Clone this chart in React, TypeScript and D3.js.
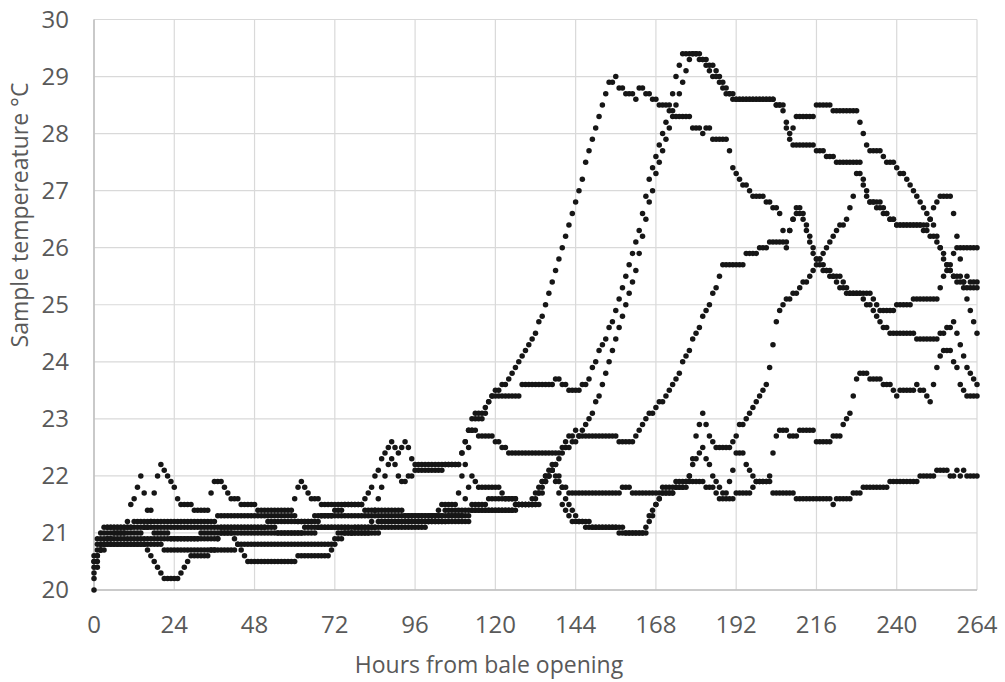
import React from 'react';
import * as d3 from 'd3';

const xTicks = [0, 24, 48, 72, 96, 120, 144, 168, 192, 216, 240, 264];
const yTicks = [20, 21, 22, 23, 24, 25, 26, 27, 28, 29, 30];

// hourly readings, hour 0..264
const seriesA = [
  20.6,20.9,21.0,21.1,21.1,21.1,21.1,21.1,21.1,21.1,
  21.1,21.1,21.1,21.1,21.1,21.1,21.1,21.4,21.7,22.0,
  22.2,22.1,22.0,21.9,21.8,21.6,21.5,21.5,21.5,21.5,
  21.4,21.4,21.4,21.4,21.4,21.7,21.9,21.9,21.9,21.8,
  21.7,21.6,21.6,21.6,21.5,21.5,21.5,21.5,21.5,21.4,
  21.4,21.4,21.4,21.4,21.4,21.4,21.4,21.4,21.4,21.4,
  21.6,21.8,21.9,21.8,21.7,21.6,21.6,21.6,21.5,21.5,
  21.5,21.5,21.5,21.5,21.5,21.5,21.5,21.5,21.5,21.5,
  21.5,21.6,21.7,21.8,22.0,22.1,22.3,22.4,22.5,22.6,
  22.5,22.4,22.5,22.6,22.5,22.3,22.2,22.2,22.2,22.2,
  22.2,22.2,22.2,22.2,22.2,22.2,22.2,22.2,22.2,22.2,
  22.4,22.6,22.8,23.0,23.1,23.1,23.1,23.2,23.3,23.4,
  23.5,23.5,23.6,23.6,23.7,23.8,23.9,24.0,24.1,24.2,
  24.3,24.4,24.5,24.7,24.8,25.0,25.2,25.4,25.6,25.8,
  26.0,26.2,26.4,26.6,26.8,27.0,27.2,27.5,27.7,27.9,
  28.1,28.3,28.5,28.7,28.9,28.9,29.0,28.8,28.8,28.7,
  28.7,28.7,28.6,28.8,28.8,28.7,28.7,28.6,28.6,28.5,
  28.5,28.5,28.5,28.4,28.3,28.3,28.3,28.3,28.3,28.1,
  28.1,28.1,28.0,28.1,28.1,27.9,27.9,27.9,27.9,27.9,
  27.7,27.4,27.3,27.2,27.1,27.1,27.0,26.9,26.9,26.9,
  26.9,26.8,26.8,26.7,26.7,26.6,26.3,26.0,26.3,26.5,
  26.7,26.7,26.6,26.4,26.2,26.0,25.8,25.8,25.7,25.6,
  25.6,25.5,25.5,25.5,25.4,25.3,25.2,25.2,25.2,25.2,
  25.2,25.2,25.2,25.1,25.0,24.9,24.9,24.9,24.9,24.9,
  25.0,25.0,25.0,25.0,25.0,25.1,25.1,25.1,25.1,25.1,
  25.1,25.1,25.1,25.3,25.5,25.6,25.7,25.9,26.0,26.0,
  26.0,26.0,26.0,26.0,26.0,
];

const seriesB = [
  20.3,20.6,20.8,20.9,21.0,21.0,21.0,21.0,21.0,21.0,
  21.2,21.5,21.6,21.8,22.0,21.7,21.4,21.2,21.0,21.0,
  21.0,21.0,21.0,20.9,20.9,20.9,20.9,20.9,20.9,20.9,
  20.9,20.9,21.0,21.0,21.0,21.0,21.0,21.0,21.1,21.1,
  21.1,21.1,21.1,21.1,21.1,21.1,21.1,21.1,21.1,21.1,
  21.1,21.1,21.2,21.2,21.2,21.2,21.2,21.2,21.2,21.2,
  21.2,21.2,21.2,21.2,21.2,21.2,21.3,21.3,21.3,21.3,
  21.3,21.3,21.3,21.3,21.3,21.3,21.3,21.3,21.3,21.3,
  21.3,21.3,21.3,21.3,21.3,21.3,21.3,21.3,21.3,21.3,
  21.3,21.3,21.3,21.3,21.3,21.3,21.3,21.3,21.3,21.3,
  21.3,21.3,21.3,21.4,21.5,21.5,21.5,21.5,21.5,21.7,
  22.0,22.2,22.5,22.8,23.0,23.0,23.0,23.1,23.3,23.4,
  23.4,23.4,23.4,23.4,23.4,23.4,23.4,23.4,23.6,23.6,
  23.6,23.6,23.6,23.6,23.6,23.6,23.6,23.6,23.7,23.7,
  23.6,23.6,23.5,23.5,23.5,23.5,23.6,23.6,23.7,23.9,
  24.0,24.2,24.3,24.4,24.6,24.7,24.9,25.1,25.3,25.5,
  25.7,25.9,26.1,26.3,26.6,26.9,27.2,27.4,27.6,27.8,
  28.0,28.2,28.4,28.7,29.0,29.2,29.4,29.4,29.4,29.4,
  29.4,29.3,29.3,29.3,29.2,29.2,29.1,29.0,28.9,28.8,
  28.7,28.7,28.6,28.6,28.6,28.6,28.6,28.6,28.6,28.6,
  28.6,28.6,28.6,28.6,28.5,28.5,28.4,28.1,27.9,27.8,
  27.8,27.8,27.8,27.8,27.8,27.8,27.7,27.7,27.7,27.6,
  27.6,27.6,27.5,27.5,27.5,27.5,27.5,27.5,27.5,27.3,
  27.1,26.9,26.8,26.8,26.8,26.8,26.7,26.6,26.5,26.5,
  26.4,26.4,26.4,26.4,26.4,26.4,26.4,26.4,26.4,26.4,
  26.5,26.7,26.8,26.9,26.9,26.9,26.9,26.6,26.2,25.8,
  25.4,25.1,24.9,24.7,24.5,
];

const seriesC = [
  20.0,20.4,20.7,20.8,20.9,20.9,20.9,20.9,20.9,20.9,
  20.9,20.9,20.9,20.9,20.9,20.9,20.9,20.9,20.9,20.9,
  20.9,20.9,20.9,20.9,20.9,20.9,20.9,20.9,20.9,20.9,
  20.9,20.9,20.9,20.9,20.9,20.9,20.9,20.9,21.0,21.0,
  21.0,21.0,21.0,21.0,21.0,21.0,21.0,21.0,21.0,21.0,
  21.0,21.0,21.0,21.0,21.0,21.0,21.0,21.0,21.0,21.0,
  21.0,21.0,21.0,21.1,21.1,21.1,21.1,21.1,21.1,21.1,
  21.1,21.1,21.1,21.1,21.1,21.1,21.1,21.0,21.0,21.0,
  21.0,21.0,21.0,21.0,21.0,21.0,21.1,21.1,21.1,21.1,
  21.1,21.1,21.1,21.1,21.1,21.1,21.1,21.1,21.1,21.1,
  21.2,21.2,21.2,21.2,21.2,21.2,21.2,21.2,21.2,21.2,
  21.2,21.2,21.2,21.4,21.4,21.4,21.4,21.4,21.4,21.4,
  21.4,21.4,21.4,21.4,21.4,21.4,21.5,21.5,21.5,21.5,
  21.5,21.5,21.6,21.8,21.9,22.0,22.0,22.1,22.2,22.3,
  22.4,22.5,22.5,22.6,22.6,22.7,22.8,22.9,23.0,23.1,
  23.3,23.4,23.6,23.8,24.0,24.2,24.4,24.6,24.8,25.0,
  25.2,25.4,25.6,25.9,26.2,26.5,26.8,27.0,27.3,27.5,
  27.7,27.9,28.1,28.3,28.5,28.7,28.9,29.1,29.3,29.4,
  29.4,29.4,29.3,29.2,29.1,29.0,29.0,28.9,28.8,28.7,
  28.7,28.6,28.6,28.6,28.6,28.6,28.6,28.6,28.6,28.6,
  28.6,28.6,28.6,28.6,28.5,28.5,28.5,28.2,28.0,28.1,
  28.3,28.3,28.3,28.3,28.3,28.3,28.5,28.5,28.5,28.5,
  28.5,28.4,28.4,28.4,28.4,28.4,28.4,28.4,28.4,28.2,
  28.0,27.8,27.7,27.7,27.7,27.7,27.6,27.5,27.5,27.5,
  27.4,27.3,27.3,27.2,27.1,27.0,26.9,26.8,26.7,26.6,
  26.5,26.4,26.2,26.0,25.8,25.7,25.6,25.5,25.5,25.5,
  25.4,25.5,25.4,25.4,25.4,
];

const seriesD = [
  20.5,20.7,20.8,20.8,20.9,20.9,21.0,21.0,21.0,21.0,
  21.0,21.0,21.0,21.0,21.0,21.1,21.1,21.1,21.1,21.1,
  21.1,21.1,21.1,21.1,21.1,21.1,21.1,21.1,21.1,21.1,
  21.1,21.1,21.1,21.1,21.1,21.1,21.1,21.1,21.1,21.1,
  21.1,21.1,21.1,21.1,21.1,21.1,21.1,21.1,21.1,21.1,
  21.1,21.1,21.1,21.1,21.1,21.0,21.0,21.0,21.0,21.0,
  21.0,21.0,21.0,21.0,21.0,21.0,21.0,21.1,21.1,21.1,
  21.1,21.1,21.1,21.1,21.1,21.1,21.1,21.1,21.1,21.1,
  21.1,21.1,21.1,21.2,21.4,21.6,21.8,22.0,22.2,22.3,
  22.2,22.0,21.9,21.9,22.0,22.0,22.1,22.1,22.1,22.1,
  22.1,22.1,22.1,22.1,22.1,22.2,22.2,22.2,22.2,22.2,
  22.4,22.6,22.8,22.8,22.8,22.7,22.7,22.7,22.7,22.7,
  22.6,22.6,22.5,22.5,22.4,22.4,22.4,22.4,22.4,22.4,
  22.4,22.4,22.4,22.4,22.4,22.4,22.4,22.4,22.4,22.4,
  22.5,22.6,22.7,22.7,22.8,22.7,22.7,22.7,22.7,22.7,
  22.7,22.7,22.7,22.7,22.7,22.7,22.7,22.6,22.6,22.6,
  22.6,22.6,22.7,22.8,22.9,23.0,23.1,23.1,23.2,23.3,
  23.3,23.4,23.5,23.6,23.7,23.8,24.0,24.1,24.2,24.4,
  24.5,24.6,24.8,24.9,25.0,25.2,25.3,25.5,25.7,25.7,
  25.7,25.7,25.7,25.7,25.7,25.9,25.9,25.9,25.9,26.0,
  26.0,26.0,26.1,26.1,26.1,26.1,26.1,26.1,26.3,26.5,
  26.6,26.6,26.5,26.3,26.1,25.9,25.8,25.7,25.6,25.6,
  25.5,25.5,25.4,25.3,25.3,25.2,25.2,25.2,25.2,25.2,
  25.1,25.0,25.0,24.9,24.8,24.7,24.6,24.6,24.5,24.5,
  24.5,24.5,24.5,24.5,24.5,24.5,24.4,24.4,24.4,24.4,
  24.4,24.4,24.4,24.5,24.5,24.6,24.6,24.7,24.5,24.3,
  24.1,23.9,23.8,23.7,23.6,
];

const seriesE = [
  20.2,20.5,20.7,20.8,20.8,20.8,20.8,20.8,20.8,20.8,
  20.8,20.8,20.8,20.8,20.8,20.8,20.7,20.6,20.5,20.4,
  20.3,20.2,20.2,20.2,20.2,20.2,20.3,20.4,20.5,20.6,
  20.6,20.6,20.6,20.6,20.6,20.7,20.7,20.9,21.0,21.0,
  21.0,21.0,20.9,20.8,20.7,20.6,20.5,20.5,20.5,20.5,
  20.5,20.5,20.5,20.5,20.5,20.5,20.5,20.5,20.5,20.5,
  20.5,20.6,20.6,20.6,20.6,20.6,20.6,20.6,20.6,20.6,
  20.6,20.7,20.8,20.9,20.9,21.0,21.0,21.0,21.1,21.1,
  21.1,21.1,21.1,21.1,21.1,21.1,21.2,21.2,21.2,21.2,
  21.2,21.2,21.2,21.2,21.2,21.2,21.2,21.2,21.2,21.2,
  21.2,21.3,21.3,21.3,21.3,21.3,21.3,21.3,21.3,21.3,
  21.3,21.3,21.3,21.4,21.4,21.4,21.4,21.5,21.6,21.6,
  21.6,21.6,21.6,21.6,21.6,21.6,21.6,21.5,21.5,21.5,
  21.5,21.5,21.5,21.5,21.7,21.9,22.0,22.1,21.9,21.7,
  21.5,21.4,21.3,21.2,21.2,21.2,21.2,21.1,21.1,21.1,
  21.1,21.1,21.1,21.1,21.1,21.1,21.1,21.0,21.0,21.0,
  21.0,21.0,21.0,21.0,21.0,21.0,21.2,21.3,21.5,21.6,
  21.7,21.7,21.7,21.7,21.8,21.8,21.8,21.9,22.0,22.3,
  22.7,22.9,23.1,22.9,22.7,22.6,22.5,22.5,22.5,22.5,
  22.5,22.6,22.7,22.9,22.9,23.0,23.1,23.2,23.3,23.4,
  23.5,23.6,23.9,24.3,24.7,24.9,25.0,25.1,25.1,25.2,
  25.2,25.3,25.4,25.4,25.5,25.6,25.7,25.8,25.9,26.0,
  26.1,26.2,26.3,26.4,26.4,26.5,26.7,26.9,27.3,27.5,
  27.2,27.0,26.8,26.8,26.7,26.7,26.6,26.6,26.5,26.5,
  26.4,26.4,26.4,26.4,26.4,26.4,26.4,26.4,26.3,26.3,
  26.2,26.2,26.1,26.0,25.9,25.7,25.6,25.5,25.4,25.4,
  25.3,25.3,25.3,25.3,25.3,
];

const seriesF = [
  20.4,20.6,20.7,20.7,20.8,20.8,20.8,20.8,20.8,20.8,
  20.8,20.8,20.8,20.8,20.8,20.8,20.8,20.8,20.8,20.8,
  20.8,20.7,20.7,20.7,20.7,20.7,20.7,20.7,20.7,20.7,
  20.7,20.7,20.7,20.7,20.7,20.7,20.7,20.7,20.7,20.7,
  20.7,20.7,20.7,20.8,20.8,20.8,20.8,20.8,20.8,20.8,
  20.8,20.8,20.8,20.8,20.8,20.8,20.8,20.8,20.8,20.8,
  20.8,20.8,20.8,20.8,20.8,20.8,20.8,20.8,20.8,20.8,
  20.8,20.8,20.9,21.0,21.0,21.0,21.0,21.0,21.0,21.0,
  21.0,21.0,21.0,21.1,21.1,21.2,21.2,21.2,21.2,21.2,
  21.2,21.2,21.2,21.2,21.2,21.2,21.2,21.2,21.2,21.2,
  21.2,21.2,21.2,21.2,21.2,21.2,21.3,21.3,21.3,21.3,
  21.3,21.6,21.8,22.0,21.9,21.8,21.8,21.8,21.8,21.8,
  21.8,21.8,21.7,21.6,21.6,21.6,21.6,21.5,21.5,21.5,
  21.5,21.5,21.5,21.7,21.9,22.0,22.1,22.2,22.2,22.0,
  21.8,21.6,21.5,21.4,21.3,21.2,21.2,21.2,21.2,21.1,
  21.1,21.1,21.1,21.1,21.1,21.1,21.1,21.1,21.1,21.0,
  21.0,21.0,21.0,21.0,21.0,21.1,21.3,21.4,21.5,21.6,
  21.8,21.8,21.8,21.8,21.8,21.8,21.8,21.8,22.0,22.2,
  22.3,22.4,22.5,22.3,22.2,22.0,21.9,21.8,21.7,21.7,
  21.9,22.1,22.4,22.4,22.4,22.2,22.1,22.0,21.9,21.9,
  21.9,21.9,22.0,22.4,22.7,22.8,22.8,22.8,22.7,22.7,
  22.7,22.8,22.8,22.8,22.8,22.8,22.6,22.6,22.6,22.6,
  22.6,22.7,22.7,22.7,22.9,23.0,23.1,23.4,23.7,23.8,
  23.8,23.8,23.7,23.7,23.7,23.7,23.6,23.6,23.6,23.5,
  23.4,23.5,23.5,23.5,23.5,23.5,23.6,23.5,23.5,23.4,
  23.3,23.6,23.9,24.1,24.2,24.2,24.2,24.0,23.9,23.6,
  23.5,23.4,23.4,23.4,23.4,
];

const seriesG = [
  20.5,20.8,20.9,21.0,21.1,21.1,21.1,21.1,21.1,21.1,
  21.1,21.1,21.2,21.2,21.2,21.2,21.2,21.2,21.2,21.2,
  21.2,21.2,21.2,21.2,21.2,21.2,21.2,21.2,21.2,21.2,
  21.2,21.2,21.2,21.2,21.2,21.2,21.2,21.3,21.3,21.3,
  21.3,21.3,21.3,21.3,21.3,21.3,21.3,21.3,21.3,21.3,
  21.3,21.3,21.3,21.3,21.3,21.3,21.3,21.3,21.3,21.3,
  21.3,21.2,21.2,21.2,21.2,21.2,21.2,21.2,21.3,21.3,
  21.3,21.3,21.4,21.4,21.4,21.5,21.5,21.5,21.5,21.5,
  21.5,21.4,21.4,21.4,21.4,21.4,21.4,21.4,21.4,21.4,
  21.4,21.4,21.4,21.3,21.3,21.3,21.3,21.3,21.3,21.3,
  21.3,21.3,21.3,21.3,21.3,21.4,21.4,21.4,21.4,21.4,
  21.4,21.4,21.4,21.5,21.5,21.5,21.5,21.4,21.4,21.4,
  21.4,21.4,21.4,21.4,21.4,21.4,21.4,21.5,21.5,21.5,
  21.5,21.6,21.7,21.7,21.8,21.9,22.0,22.1,22.0,21.9,
  21.8,21.8,21.7,21.7,21.7,21.7,21.7,21.7,21.7,21.7,
  21.7,21.7,21.7,21.7,21.7,21.7,21.7,21.7,21.8,21.8,
  21.8,21.7,21.7,21.7,21.7,21.7,21.7,21.7,21.7,21.7,
  21.7,21.7,21.7,21.7,21.9,21.9,21.9,21.9,21.9,21.9,
  21.9,21.9,21.9,21.8,21.8,21.8,21.7,21.6,21.6,21.6,
  21.6,21.6,21.7,21.7,21.7,21.7,21.7,21.8,21.9,21.9,
  21.9,21.9,21.9,21.7,21.7,21.7,21.7,21.7,21.7,21.7,
  21.6,21.6,21.6,21.6,21.6,21.6,21.6,21.6,21.6,21.6,
  21.6,21.5,21.6,21.6,21.6,21.6,21.6,21.7,21.7,21.7,
  21.8,21.8,21.8,21.8,21.8,21.8,21.8,21.8,21.9,21.9,
  21.9,21.9,21.9,21.9,21.9,21.9,21.9,22.0,22.0,22.0,
  22.0,22.0,22.1,22.1,22.1,22.1,22.0,22.0,22.1,22.0,
  22.1,22.0,22.0,22.0,22.0,
];

const allSeries = [seriesA, seriesB, seriesC, seriesD, seriesE, seriesF, seriesG];

const W = 1005;
const H = 682;
const FONT = "'Open Sans', 'Liberation Sans', sans-serif";

export default function App() {
  const x = d3.scaleLinear().domain([0, 264]).range([94, 977]);
  const y = d3.scaleLinear().domain([20, 30]).range([590, 19.5]);

  return (
    <svg
      width={W}
      height={H}
      viewBox={`0 0 ${W} ${H}`}
      style={{ position: 'absolute', left: 0, top: 0, background: '#ffffff' }}
      fontFamily={FONT}
    >
      <rect x={0} y={0} width={W} height={H} fill="#ffffff" />
      {yTicks.map((t) => (
        <line key={'gy' + t} x1={x(0)} x2={x(264)} y1={y(t)} y2={y(t)} stroke="#d9d9d9" strokeWidth={1.2} />
      ))}
      {xTicks.map((t) => (
        <line key={'gx' + t} x1={x(t)} x2={x(t)} y1={y(30)} y2={y(20)} stroke="#d9d9d9" strokeWidth={1.2} />
      ))}
      <line x1={x(0)} x2={x(0)} y1={y(30)} y2={y(20)} stroke="#bfbfbf" strokeWidth={1.5} />
      <line x1={x(0)} x2={x(264)} y1={y(20)} y2={y(20)} stroke="#bfbfbf" strokeWidth={1.5} />

      {allSeries.map((s, si) => (
        <g key={'s' + si} fill="#161616">
          {s.map((v, i) => (
            <circle key={i} cx={x(i)} cy={y(v)} r={2.75} />
          ))}
        </g>
      ))}

      {yTicks.map((t) => (
        <text key={'ly' + t} x={69} y={y(t)} dy="0.35em" textAnchor="end" fontSize={24} fill="#595959">
          {t}
        </text>
      ))}
      {xTicks.map((t) => (
        <text key={'lx' + t} x={x(t)} y={633} textAnchor="middle" fontSize={24} fill="#595959">
          {t}
        </text>
      ))}
      <text x={489} y={673} textAnchor="middle" fontSize={23} fill="#595959">
        Hours from bale opening
      </text>
      <text transform={`translate(28, 215) rotate(-90)`} textAnchor="middle" fontSize={23} fill="#595959">
        Sample tempereature °C
      </text>
    </svg>
  );
}
